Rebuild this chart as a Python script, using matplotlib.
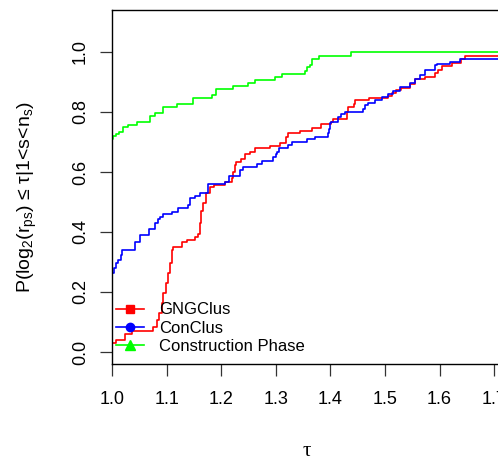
import matplotlib
matplotlib.use("Agg")
import matplotlib.pyplot as plt
from matplotlib.lines import Line2D

plt.rcParams["font.family"] = ["Liberation Sans", "DejaVu Sans"]
plt.rcParams["mathtext.fontset"] = "custom"
plt.rcParams["mathtext.rm"] = "Liberation Sans"
plt.rcParams["mathtext.it"] = "Liberation Sans"
plt.rcParams["mathtext.default"] = "regular"

# step curves: (tau, P) at each jump ----------------------------------------------------
gng_x = [1.000, 1.007, 1.024, 1.036, 1.076, 1.082, 1.087, 1.091, 1.094, 1.099, 1.103, 1.106,
         1.109, 1.112, 1.128, 1.137, 1.152, 1.158, 1.161, 1.163, 1.166, 1.173, 1.179, 1.186,
         1.207, 1.219, 1.222, 1.225, 1.228, 1.237, 1.244, 1.253, 1.262, 1.289, 1.308, 1.319,
         1.323, 1.344, 1.366, 1.382, 1.402, 1.405, 1.430, 1.433, 1.443, 1.445, 1.470, 1.506,
         1.512, 1.521, 1.530, 1.546, 1.555, 1.573, 1.592, 1.598, 1.604, 1.622, 1.640, 1.646,
         1.720]
gng_y = [0.031, 0.040, 0.060, 0.071, 0.084, 0.107, 0.130, 0.162, 0.197, 0.229, 0.262, 0.296,
         0.340, 0.351, 0.368, 0.373, 0.384, 0.395, 0.430, 0.470, 0.497, 0.529, 0.551, 0.557,
         0.568, 0.579, 0.600, 0.623, 0.634, 0.645, 0.660, 0.668, 0.679, 0.687, 0.698, 0.718,
         0.729, 0.738, 0.748, 0.759, 0.768, 0.777, 0.801, 0.818, 0.828, 0.840, 0.848, 0.855,
         0.862, 0.872, 0.881, 0.892, 0.910, 0.918, 0.930, 0.940, 0.954, 0.965, 0.977, 0.987,
         0.987]

con_x = [1.000, 1.003, 1.007, 1.011, 1.016, 1.018, 1.042, 1.051, 1.068, 1.079, 1.085, 1.088,
         1.094, 1.109, 1.121, 1.140, 1.143, 1.152, 1.161, 1.176, 1.207, 1.214, 1.234, 1.240,
         1.265, 1.274, 1.295, 1.300, 1.303, 1.305, 1.323, 1.329, 1.357, 1.372, 1.396, 1.398,
         1.400, 1.402, 1.414, 1.420, 1.427, 1.460, 1.463, 1.469, 1.481, 1.494, 1.506, 1.515,
         1.527, 1.546, 1.555, 1.564, 1.573, 1.592, 1.595, 1.619, 1.637, 1.720]
con_y = [0.262, 0.280, 0.296, 0.307, 0.323, 0.340, 0.368, 0.390, 0.409, 0.429, 0.445, 0.451,
         0.460, 0.468, 0.479, 0.490, 0.512, 0.520, 0.529, 0.560, 0.568, 0.587, 0.607, 0.618,
         0.627, 0.638, 0.650, 0.660, 0.668, 0.679, 0.690, 0.699, 0.709, 0.718, 0.730, 0.745,
         0.762, 0.768, 0.784, 0.795, 0.800, 0.810, 0.823, 0.829, 0.840, 0.851, 0.860, 0.870,
         0.884, 0.897, 0.910, 0.923, 0.940, 0.957, 0.960, 0.968, 0.978, 0.978]

cp_x = [1.000, 1.002, 1.007, 1.012, 1.020, 1.030, 1.045, 1.070, 1.079, 1.094, 1.119, 1.148,
        1.183, 1.190, 1.222, 1.250, 1.262, 1.2985, 1.311, 1.353, 1.358, 1.362, 1.366, 1.380,
        1.437, 1.720]
cp_y = [0.710, 0.720, 0.726, 0.734, 0.749, 0.757, 0.768, 0.787, 0.798, 0.818, 0.827, 0.846,
        0.857, 0.876, 0.888, 0.898, 0.907, 0.918, 0.927, 0.937, 0.950, 0.957, 0.977, 0.988,
        1.000, 1.000]

labels = ["GNGClus", "ConClus", "Construction Phase"]
x_ticks = [1.0, 1.1, 1.2, 1.3, 1.4, 1.5, 1.6, 1.7]
y_ticks = [0.0, 0.2, 0.4, 0.6, 0.8, 1.0]

fig = plt.figure(figsize=(4.98, 4.59), dpi=100)
ax = fig.add_axes([112 / 498, 95 / 459, (501 - 112) / 498, 354 / 459])

ax.step(gng_x, gng_y, where="post", color="#ff0000", lw=1.2)
ax.step(con_x, con_y, where="post", color="#0000ff", lw=1.2)
ax.step(cp_x, cp_y, where="post", color="#00ff00", lw=1.2)

ax.set_xlim(1.0, 1.7125)
ax.set_ylim(-0.04, 1.14)
ax.set_xticks(x_ticks)
ax.set_xticklabels(["%.1f" % v for v in x_ticks])
ax.set_yticks(y_ticks)
ax.set_yticklabels(["%.1f" % v for v in y_ticks], rotation=90, va="center")
ax.tick_params(length=8.5, width=0.9, labelsize=13, color="#333333")
ax.tick_params(axis="x", pad=11)
ax.tick_params(axis="y", pad=8)
for s in ax.spines.values():
    s.set_linewidth(1.0)

fig.text(27 / 498, 1 - 197 / 459,
         r"P(log$_2$(r$_{ps}$) ≤ τ|1<s<n$_s$)",
         rotation=90, ha="center", va="center", fontsize=14)
fig.text(306.7 / 498, 1 - 451 / 459, "τ", family="Liberation Serif",
         ha="center", va="center", fontsize=15)

handles = [Line2D([], [], color="#ff0000", marker="s", markersize=6, lw=1.2),
           Line2D([], [], color="#0000ff", marker="o", markersize=6, lw=1.2),
           Line2D([], [], color="#00ff00", marker="^", markersize=6.5, lw=1.2)]
ax.legend(handles, labels, loc="lower left", bbox_to_anchor=(116 / 498, 1 - 354 / 459),
          bbox_transform=fig.transFigure, frameon=False, fontsize=12,
          handlelength=1.7, handletextpad=0.9, labelspacing=0.2,
          borderpad=0, borderaxespad=0)

fig.savefig("out.png", dpi=100)
